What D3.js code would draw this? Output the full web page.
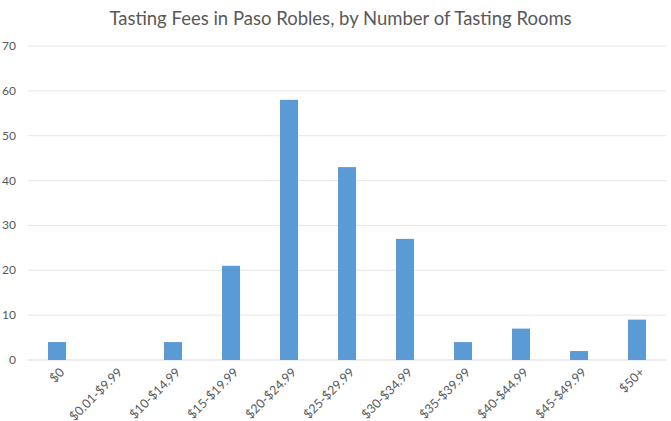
<!DOCTYPE html>
<html>
<head>
<meta charset="utf-8">
<script src="https://cdn.jsdelivr.net/npm/d3@7"></script>
<style>
body { margin: 0; background: #fff; }
text { font-family: Lato, "Liberation Sans", sans-serif; }
</style>
</head>
<body>
<div id="chart"></div>
<script>
const categories = ["$0", "$0.01-$9.99", "$10-$14.99", "$15-$19.99", "$20-$24.99", "$25-$29.99",
                    "$30-$34.99", "$35-$39.99", "$40-$44.99", "$45-$49.99", "$50+"];
const rooms = [4, 0, 4, 21, 58, 43, 27, 4, 7, 2, 9];
const yTicks = [0, 10, 20, 30, 40, 50, 60, 70];

const width = 671, height = 421;
const margin = { top: 46, right: 5, bottom: 61, left: 28 };

const svg = d3.select('#chart').append('svg')
    .attr('width', width)
    .attr('height', height);

svg.append('text')
    .attr('x', width / 2 + 5)
    .attr('y', 25)
    .attr('text-anchor', 'middle')
    .style('font-size', '18.5px')
    .style('fill', '#595959')
    .text('Tasting Fees in Paso Robles, by Number of Tasting Rooms');

const x = d3.scaleBand()
    .domain(categories)
    .range([margin.left, width - margin.right])
    .paddingInner(0.69)
    .paddingOuter(0.345);

const y = d3.scaleLinear()
    .domain([0, 70])
    .range([height - margin.bottom, margin.top]);

// grid
svg.append('g')
    .selectAll('line')
    .data(yTicks)
    .join('line')
    .attr('x1', margin.left)
    .attr('x2', width - margin.right)
    .attr('y1', d => y(d))
    .attr('y2', d => y(d))
    .attr('stroke', d => d === 0 ? '#d9d9d9' : '#e6e6e6')
    .attr('stroke-width', 1);

svg.append('g')
    .selectAll('text')
    .data(yTicks)
    .join('text')
    .attr('x', 16)
    .attr('y', d => y(d) + 4)
    .attr('text-anchor', 'end')
    .style('font-size', '12px')
    .style('fill', '#595959')
    .text(d => d);

svg.append('g')
    .selectAll('rect')
    .data(rooms)
    .join('rect')
    .attr('x', (d, i) => x(categories[i]))
    .attr('width', x.bandwidth())
    .attr('y', d => y(d))
    .attr('height', d => y(0) - y(d))
    .attr('fill', '#5b9bd5');

svg.append('g')
    .selectAll('text')
    .data(categories)
    .join('text')
    .attr('transform', d => 'translate(' + (x(d) + x.bandwidth() / 2 + 5) + ',' + (y(0) + 10) + ') rotate(-45)')
    .attr('text-anchor', 'end')
    .attr('dy', '0.35em')
    .style('font-size', '12.5px')
    .style('fill', '#595959')
    .text(d => d);
</script>
</body>
</html>
